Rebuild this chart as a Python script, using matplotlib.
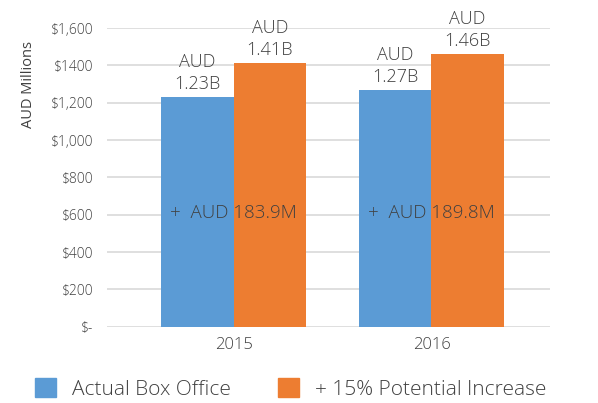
import matplotlib.pyplot as plt
import numpy as np
from matplotlib.patches import Patch

plt.rcParams['font.family'] = ['Open Sans', 'DejaVu Sans']
plt.rcParams['font.weight'] = 'light'

# data (AUD millions)
years = ['2015', '2016']
actual = [1230, 1270]
potential = [1414, 1460]
actual_lbl = ['AUD\n1.23B', 'AUD\n1.27B']
potential_lbl = ['AUD\n1.41B', 'AUD\n1.46B']
increase_lbl = ['+  AUD 183.9M', '+  AUD 189.8M']
series = ['Actual Box Office', '+ 15% Potential Increase']

blue = '#5B9BD5'
orange = '#ED7D31'
txt = '#404040'

fig = plt.figure(figsize=(5.98, 4.03), dpi=100)
ax = fig.add_axes([0.179, 0.189, 0.741, 0.7415])

x = np.arange(len(years))
w = 0.365
ax.bar(x - w / 2, actual, w, color=blue, zorder=3)
ax.bar(x + w / 2, potential, w, color=orange, zorder=3)

for i in range(len(years)):
    ax.text(x[i] - w / 2, actual[i] + 20, actual_lbl[i], ha='center', va='bottom',
            fontsize=13, color=txt, linespacing=1.3)
    ax.text(x[i] + w / 2, potential[i] + 20, potential_lbl[i], ha='center', va='bottom',
            fontsize=13, color=txt, linespacing=1.3)
    ax.text(x[i], 610, increase_lbl[i], ha='center', va='center',
            fontsize=13.5, color=txt, zorder=4)

ax.set_xlim(-0.64, 1.6)
ax.set_ylim(0, 1600)
ax.set_yticks(range(0, 1601, 200))
ax.set_yticklabels(['$-', '$200', '$400', '$600', '$800', '$1,000', '$1,200', '$1400', '$1,600'])
ax.set_xticks(x)
ax.set_xticklabels(years)
ax.tick_params(axis='y', length=0, pad=10, labelsize=10, labelcolor=txt)
ax.tick_params(axis='x', length=0, pad=7, labelsize=12, labelcolor=txt)
ax.grid(axis='y', color='#d9d9d9', linewidth=1.2, zorder=0)
for s in ax.spines.values():
    s.set_visible(False)
ax.set_ylabel('AUD Millions', fontsize=10.5, color=txt)
ax.yaxis.set_label_coords(-0.16, 0.81)

handles = [Patch(color=blue), Patch(color=orange)]
fig.legend(handles, series, loc='lower left', bbox_to_anchor=(0.045, -0.012), ncol=2,
           frameon=False, fontsize=15, handlelength=1.0, handleheight=1.0,
           handletextpad=0.75, columnspacing=2.3, borderaxespad=0, labelcolor=txt)

fig.savefig('out.png', dpi=100)
